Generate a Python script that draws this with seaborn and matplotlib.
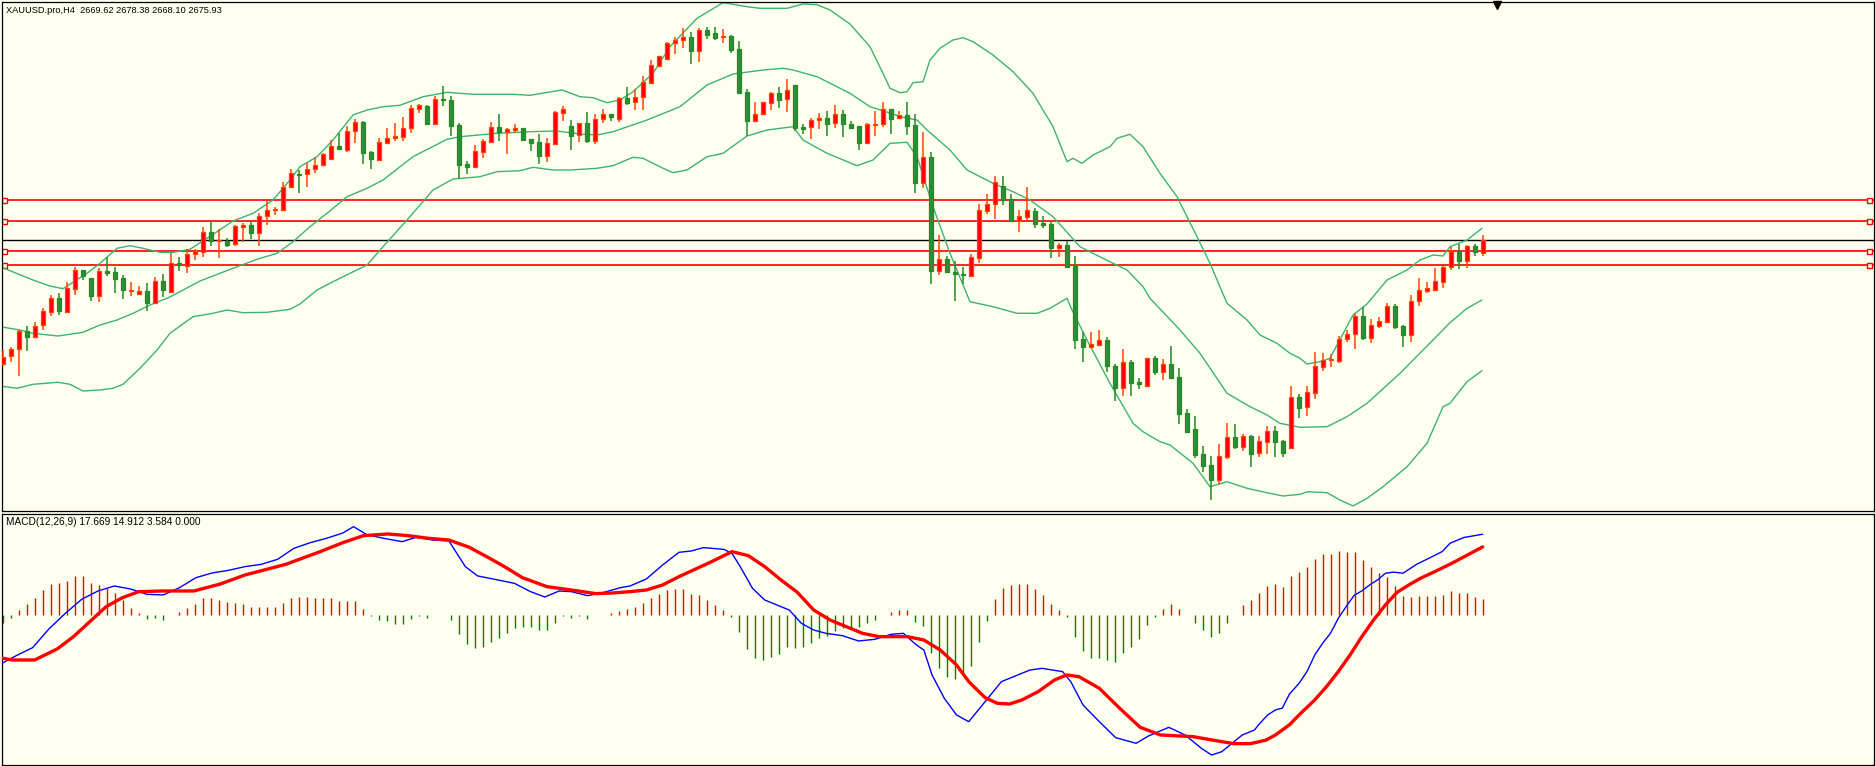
import numpy as np
import pandas as pd
import matplotlib
matplotlib.use('Agg')
from matplotlib import pyplot as plt
import seaborn as sns

sns.set_theme(style='white')
plt.rcParams['font.family'] = ['Liberation Sans', 'DejaVu Sans']

# ---- XAUUSD.pro H4 candles ----
opens = [2614, 2618, 2621.5, 2630.5, 2627.5, 2633.5, 2640, 2647, 2640, 2651.5,
         2661, 2657, 2648, 2660.5, 2660, 2657, 2650.65, 2649.15, 2650.5, 2644.5,
         2655.5, 2650, 2664.5, 2663, 2669, 2670, 2680, 2675.35, 2675.5, 2674,
         2682.65, 2683.5, 2679.5, 2688, 2690.85, 2691, 2702.5, 2709, 2709, 2711.5,
         2713.5, 2716.5, 2723, 2721, 2730.5, 2735, 2720, 2716, 2724.5, 2727,
         2727.5, 2732, 2741.5, 2743, 2734, 2746.5, 2746, 2733.5, 2714, 2712.5,
         2720, 2725, 2732.5, 2730, 2731.15, 2732, 2726.5, 2725, 2718, 2724,
         2739.5, 2733, 2728.5, 2734.5, 2725.5, 2736.5, 2739, 2736.5, 2747, 2745,
         2747.5, 2754.5, 2763, 2766.5, 2774.5, 2776, 2777.5, 2770.5, 2781, 2779.5,
         2777.35, 2778, 2771.5, 2750, 2735.5, 2739, 2744.5, 2749.5, 2746.5, 2753.5,
         2732.5, 2732.5, 2736, 2737, 2734.5, 2739, 2734, 2733, 2724.5, 2733.65,
         2734, 2741.5, 2737, 2738.5, 2733.5, 2704.5, 2717.5, 2660.5, 2666.5, 2660,
         2658.85, 2658, 2667, 2690.5, 2694, 2703, 2696.5, 2685.5, 2687.5, 2690.5,
         2684.5, 2684, 2672, 2673.5, 2663, 2626.5, 2622.5, 2623.5, 2626, 2613,
         2602, 2615, 2605, 2603, 2617, 2610, 2614, 2607.5, 2589.5, 2581.5,
         2569, 2563.5, 2556, 2567.5, 2577.5, 2572.5, 2578, 2569.5, 2575, 2580.5,
         2575.5, 2572, 2597.5, 2592.5, 2599.5, 2612.5, 2616, 2615.5, 2626.5, 2629,
         2638, 2627, 2633, 2635, 2643, 2633, 2628.5, 2645.5, 2650.5, 2651,
         2655, 2662.5, 2670, 2665.5, 2673, 2669.62]
highs = [2621, 2622.5, 2631, 2633, 2635, 2642, 2648.5, 2649.5, 2655, 2662.5,
         2661.25, 2657, 2662, 2667.5, 2662.5, 2658.5, 2655, 2653.15, 2654.5, 2657.5,
         2659, 2669.5, 2667.5, 2671.5, 2671.5, 2682.5, 2685, 2681.5, 2677, 2683.5,
         2684.5, 2685, 2689.5, 2695.5, 2692.5, 2705, 2711.5, 2711, 2714.5, 2717.5,
         2719.5, 2726, 2729.5, 2733, 2736.5, 2735.5, 2720.5, 2727, 2732, 2734.5,
         2737.5, 2743.5, 2744, 2743.5, 2748, 2753, 2748, 2734.5, 2715.5, 2723.5,
         2726.5, 2735, 2739, 2732, 2734, 2732.25, 2726.5, 2729, 2727, 2740.5,
         2743, 2736, 2734.5, 2740, 2739, 2741.5, 2739, 2747.5, 2752.5, 2751.5,
         2758, 2766, 2768, 2775, 2777.5, 2782, 2780, 2782, 2782.5, 2782.5,
         2781.5, 2778.5, 2775.5, 2751.5, 2745, 2745.25, 2750, 2752.5, 2756.5, 2753.5,
         2734, 2737, 2739.5, 2740.5, 2743.5, 2741, 2735.5, 2733, 2734.5, 2740.5,
         2745, 2741.5, 2740.5, 2745, 2739, 2730, 2720, 2678.5, 2668, 2665.5,
         2662.5, 2669, 2694, 2699, 2708, 2708, 2699, 2691, 2702.5, 2692,
         2688, 2685, 2674.5, 2675.5, 2668, 2630, 2630, 2631, 2627.5, 2614,
         2621.5, 2616, 2607, 2617.25, 2618, 2616.5, 2623, 2612, 2591.5, 2588,
         2573, 2568, 2574, 2584.5, 2584, 2579, 2578.5, 2578, 2583, 2583,
         2576, 2603, 2599, 2603, 2620, 2619.5, 2619, 2628, 2631, 2639.5,
         2642.5, 2636.5, 2637.5, 2644.5, 2644, 2633.5, 2648.5, 2657, 2655, 2662,
         2663, 2672.5, 2674, 2673.5, 2674, 2678.38]
lows = [2613, 2615, 2608, 2620.5, 2627, 2631, 2638, 2638.5, 2639.5, 2648.5,
        2656, 2645.5, 2645, 2658, 2649.5, 2646.5, 2648, 2648.35, 2640.5, 2644,
        2647.5, 2649.5, 2660.5, 2659.5, 2666, 2667.5, 2673, 2667, 2672.5, 2673,
        2675, 2676.5, 2673, 2683.5, 2688.5, 2690.5, 2702, 2699.5, 2702.5, 2709.5,
        2713, 2716, 2721, 2720, 2724.5, 2714, 2711.5, 2715.5, 2724, 2725.5,
        2725.5, 2729.5, 2739.5, 2733.5, 2733.5, 2743, 2728, 2706.5, 2709, 2712,
        2717, 2724.5, 2725.5, 2719, 2729.5, 2726, 2720.5, 2714, 2715, 2724,
        2735.5, 2721, 2725, 2724.5, 2724, 2734.5, 2735.5, 2735, 2743.5, 2741,
        2741, 2754.5, 2763, 2766, 2769, 2772, 2764, 2765, 2776.5, 2776,
        2774.5, 2769.5, 2749, 2728, 2735, 2738.5, 2741, 2742, 2740, 2730.5,
        2729, 2726.5, 2731.5, 2728, 2732, 2727.5, 2731.5, 2721, 2724, 2728,
        2732.5, 2729, 2736.5, 2728.5, 2699.5, 2702, 2654, 2658.5, 2660, 2645.5,
        2654, 2657.5, 2664.5, 2689, 2686.5, 2693.5, 2685.25, 2680, 2685.5, 2682,
        2682, 2667, 2667.5, 2662.25, 2621.5, 2615, 2622, 2623, 2610, 2595.5,
        2598, 2598, 2601.5, 2603, 2608.5, 2606, 2606.5, 2584, 2579.5, 2567,
        2560, 2546, 2554, 2566.5, 2571.5, 2570.5, 2562.5, 2567.5, 2569, 2567.5,
        2567.5, 2571.5, 2587, 2588, 2596.5, 2610.5, 2612.5, 2614.5, 2625, 2621.5,
        2626, 2624.5, 2632, 2634.5, 2631.5, 2622.5, 2625, 2643, 2649.5, 2650.5,
        2652, 2661, 2661.5, 2662, 2668, 2668.10]
closes = [2617.5, 2621.5, 2630.5, 2627.5, 2633, 2640.5, 2647, 2640.5, 2652, 2661,
          2658, 2648, 2660.5, 2659.5, 2656.5, 2651, 2651, 2650.35, 2644.5, 2655.5,
          2651, 2664.5, 2663.5, 2669, 2670.5, 2680, 2675.5, 2675.85, 2673.5, 2683,
          2683.35, 2679.5, 2688, 2691, 2691.65, 2702.5, 2709.5, 2708.5, 2711.5, 2713.5,
          2719, 2723, 2721.5, 2730.5, 2735, 2719.5, 2716.5, 2725, 2727, 2728,
          2732, 2742, 2743.5, 2734, 2746.5, 2745.85, 2733, 2713.5, 2712.5, 2720.5,
          2725.5, 2732.5, 2730, 2731.5, 2732, 2726, 2724.5, 2718, 2724.5, 2740,
          2741.5, 2728, 2734.5, 2725.5, 2736.5, 2739, 2737.5, 2747, 2744.5, 2747.5,
          2755, 2763.5, 2768, 2774.5, 2776, 2777.5, 2770.5, 2781, 2778.5, 2777,
          2778.15, 2771, 2749.5, 2735.5, 2739, 2745, 2749.5, 2746, 2751, 2732,
          2731.5, 2736, 2737, 2734, 2739, 2734, 2732, 2724.5, 2734, 2734,
          2741.5, 2736.5, 2738.5, 2733, 2704.5, 2717.5, 2660.5, 2666.5, 2660, 2659,
          2658.35, 2667.5, 2691, 2694, 2705, 2696, 2685.5, 2688, 2691, 2684,
          2683.5, 2672, 2673.5, 2662.5, 2626, 2622.5, 2624, 2626, 2613, 2602,
          2615, 2604.5, 2604, 2617, 2610, 2614, 2607, 2589, 2580, 2568.5,
          2563, 2556, 2568, 2577.5, 2572.5, 2578, 2569, 2575.5, 2580.5, 2575,
          2569.5, 2597.5, 2592, 2600, 2613, 2616, 2616.5, 2626.5, 2629, 2638,
          2627, 2633.5, 2635.5, 2643, 2632.5, 2628.5, 2645.5, 2651, 2652, 2655.5,
          2662.5, 2670.5, 2665.5, 2673, 2670, 2675.93]

# Bollinger bands (20, 2): points (bar position, price)
upper_bars = [-0.34, 3.79, 5.91, 7.54, 10.54, 12.16, 14.29, 15.91, 17.54, 19.66,
              21.29, 23.41, 26.79, 28.79, 31.29, 33.79, 35.91, 37.16, 39.29, 41.29,
              43.79, 45.54, 47.54, 49.66, 52.54, 55.54, 58.79, 63.79, 65.91, 69.91,
              72.16, 73.79, 75.54, 77.16, 78.79, 81.29, 83.41, 86.79, 90.04, 93.04,
              94.66, 98.04, 100.04, 101.79, 103.41, 105.91, 108.41, 110.04, 110.91, 112.16,
              113.04, 113.79, 115.04, 115.91, 117.16, 118.79, 120.04, 121.29, 123.79, 126.29,
              128.79, 131.29, 133.04, 133.79, 134.91, 136.29, 138.41, 139.29, 140.91, 142.54,
              144.66, 146.79, 149.29, 150.91, 153.04, 155.54, 157.16, 159.29, 160.91, 162.16,
              163.04, 164.66, 165.91, 168.79, 170.54, 173.04, 175.54, 177.16, 178.79, 180.04,
              180.91, 183.04, 184.91]
upper_vals = [2662.65, 2656, 2653, 2651.65, 2659.35, 2664.35, 2671.85, 2673.15, 2671.85, 2669.85,
              2669.85, 2671.35, 2680.15, 2685.5, 2689.35, 2696, 2706, 2712.65, 2717.65, 2726,
              2738.5, 2741, 2742.65, 2743.35, 2747.65, 2749.85, 2748.85, 2748.85, 2748.35, 2751,
              2747.65, 2747.15, 2744.65, 2746, 2750.15, 2759.35, 2772.65, 2786.85, 2794.65, 2792.65,
              2791.85, 2791.85, 2794, 2793.65, 2791, 2784, 2772.65, 2759.35, 2751.85, 2749.65,
              2750.15, 2754.65, 2755.15, 2766, 2771.85, 2776, 2777.15, 2775.15, 2768.5, 2760.15,
              2749.35, 2732.65, 2715.15, 2716.85, 2714.35, 2718.5, 2722.65, 2726.85, 2728.85, 2722.65,
              2709.35, 2697.65, 2677.65, 2664.35, 2644.35, 2636, 2628.5, 2624.35, 2619.35, 2616.85,
              2614, 2615.15, 2616.85, 2638.5, 2644, 2656, 2661, 2666, 2668.5, 2668,
              2672.65, 2676, 2681.85]
middle_bars = [-0.34, 2.16, 3.79, 6.91, 10.04, 12.16, 14.29, 16.29, 18.41, 20.54,
               21.79, 24.66, 28.79, 31.79, 34.29, 36.29, 38.41, 40.54, 43.04, 45.54,
               47.54, 51.29, 55.54, 57.16, 61.79, 65.91, 69.29, 72.16, 74.29, 76.29,
               80.54, 84.66, 88.04, 91.29, 95.04, 97.54, 98.79, 101.79, 105.91, 108.41,
               112.54, 114.29, 115.54, 118.41, 120.54, 123.79, 126.29, 128.41, 131.29, 134.66,
               136.29, 138.79, 140.54, 142.54, 143.41, 147.16, 149.66, 153.04, 155.91, 158.04,
               159.66, 162.16, 165.54, 168.04, 170.54, 174.66, 178.79, 180.91, 183.04, 184.91]
middle_vals = [2632.65, 2631, 2629.35, 2628, 2629.85, 2633.5, 2636, 2639.35, 2643.5, 2646.85,
               2649.35, 2655.5, 2661.85, 2666.35, 2669.35, 2675.15, 2682.65, 2689.35, 2697.65, 2701.85,
               2706, 2717.65, 2726.35, 2727.65, 2729.35, 2730.15, 2730.5, 2729, 2728.5, 2730.15,
               2736, 2742.65, 2753.5, 2759, 2761, 2761.85, 2761, 2757.65, 2749.35, 2742.65,
               2737.35, 2736, 2731, 2721, 2711, 2704.35, 2700.15, 2696, 2687.65, 2672.65,
               2669.35, 2664.35, 2661, 2652.65, 2646.85, 2631, 2619.35, 2599.35, 2592.65, 2588.5,
               2584.35, 2582.35, 2582.65, 2587.65, 2594.35, 2609.35, 2626, 2634.65, 2641.85, 2646]
lower_bars = [-0.34, 1.79, 3.79, 6.91, 8.41, 10.04, 12.16, 13.79, 15.04, 17.16,
              19.29, 20.91, 23.79, 26.29, 28.04, 30.04, 33.04, 35.91, 37.16, 39.29,
              41.29, 43.41, 45.54, 47.54, 50.54, 53.79, 56.29, 59.66, 61.79, 64.66,
              66.29, 68.79, 70.91, 74.29, 76.29, 78.79, 80.04, 82.54, 83.79, 85.54,
              88.04, 90.04, 93.04, 95.54, 98.79, 100.04, 103.04, 106.79, 108.79, 110.91,
              113.04, 114.29, 116.29, 118.41, 120.91, 123.79, 126.79, 129.29, 130.91, 133.04,
              133.66, 135.54, 138.41, 141.29, 142.54, 144.66, 145.91, 148.79, 150.91, 153.04,
              155.54, 158.04, 160.04, 162.16, 163.16, 165.54, 167.16, 168.79, 170.54, 172.54,
              175.54, 178.04, 180.04, 180.91, 183.04, 184.91]
lower_vals = [2603, 2601.85, 2603.85, 2604.85, 2603.85, 2600.5, 2601, 2601.85, 2603.85, 2611.85,
              2621, 2629.35, 2637.65, 2639.35, 2641, 2639.65, 2639.85, 2641.35, 2644, 2651,
              2655.15, 2659.35, 2663.5, 2672.65, 2686, 2701, 2706.5, 2707.65, 2710.15, 2710.65,
              2712.35, 2711, 2711, 2711.85, 2713.15, 2717.35, 2716.85, 2711.85, 2709.65, 2711,
              2717.65, 2719.35, 2728, 2731, 2732.65, 2726, 2719.35, 2713.15, 2716, 2724.35,
              2724.85, 2717.65, 2692.65, 2669.35, 2645.15, 2642.65, 2639.35, 2639.35, 2641.85, 2646.85,
              2641, 2626, 2604.35, 2584.35, 2580.15, 2575.15, 2573.5, 2564.35, 2552.65, 2555.15,
              2551.85, 2549.65, 2548, 2548.85, 2550.15, 2549.65, 2546, 2543, 2546.85, 2552.65,
              2562.65, 2574.35, 2592.65, 2594.35, 2605.15, 2610.65]

# support / resistance levels and the bid line
red_levels = [2695.85, 2685.35, 2670.35, 2663.35]
bid_level = 2676.0

# MACD(12,26,9): main and signal lines (bar position, value), histogram per bar
main_bars = [-0.34, 1.70, 3.74, 5.78, 7.83, 9.87, 11.91, 13.95, 15.99, 18.03,
             20.07, 22.11, 24.15, 26.19, 28.23, 30.28, 32.32, 34.36, 36.40, 38.44,
             40.48, 42.52, 43.85, 45.58, 47.62, 49.92, 51.70, 53.74, 55.78, 57.83,
             59.36, 60.88, 63.95, 65.99, 67.77, 69.56, 71.09, 73.13, 75.17, 77.21,
             78.41, 80.45, 82.49, 84.53, 86.06, 87.59, 90.14, 91.16, 92.19, 93.72,
             95.25, 97.29, 98.31, 99.84, 101.37, 102.9, 104.94, 106.98, 109.02, 111.06,
             112.59, 114.12, 115.14, 116.17, 117.7, 119.23, 120.76, 122.8, 124.84, 126.88,
             128.41, 129.94, 132.49, 133.51, 135.04, 137.08, 139.13, 141.68, 143.21, 145.76,
             147.8, 149.84, 151.11, 152.39, 154.94, 156.47, 157.16, 158.14, 159.12, 159.95,
             160.84, 162.06, 163.04, 164.02, 165.0, 165.98, 166.96, 167.94, 168.92, 169.9,
             170.89, 171.87, 172.85, 173.83, 175.05, 176.77, 178.73, 179.95, 180.93, 182.65,
             183.88, 185]
main_vals = [-10.62, -8.73, -6.99, -2.92, 0.47, 3.51, 5.33, 6.41, 5.76, 4.6,
             4.46, 6.05, 8.22, 9.24, 9.82, 10.62, 11.12, 12.21, 14.6, 15.83,
             16.78, 17.93, 19.31, 17.5, 16.78, 16.05, 17.0, 16.41, 16.2, 10.62,
             8.6, 8.08, 7.0, 5.18, 4.02, 5.33, 5.18, 4.31, 5.04, 6.05,
             6.41, 7.93, 10.98, 13.73, 14.02, 14.75, 14.38, 13.51, 10.62, 5.91,
             3.37, 1.92, 1.2, -1.7, -3.15, -3.88, -4.38, -5.54, -5.18, -4.09,
             -3.88, -6.27, -7.5, -12.93, -18.01, -21.63, -23.08, -18.73, -14.38, -12.93,
             -11.85, -11.49, -12.21, -14.38, -19.46, -23.08, -26.56, -27.79, -26.2, -24.31,
             -25.98, -28.88, -30.33, -29.6, -25.98, -24.89, -23.41, -21.59, -20.51, -20.14,
             -17.1, -14.71, -12.17, -8.55, -6.01, -3.84, -0.58, 1.96, 4.35, 5.36,
             6.67, 7.75, 9.2, 9.42, 9.2, 11.16, 12.83, 13.91, 15.72, 16.96,
             17.32, 17.669]
signal_bars = [-0.34, 1.19, 4.0, 6.81, 8.85, 10.89, 12.93, 14.97, 17.01, 20.07,
               23.9, 27.21, 30.28, 35.38, 39.46, 42.52, 45.07, 48.13, 50.68, 53.23,
               55.78, 58.33, 60.88, 62.93, 64.97, 68.03, 71.09, 74.15, 76.19, 78.41,
               80.45, 82.49, 84.53, 88.61, 91.16, 93.2, 95.25, 97.29, 99.33, 101.37,
               103.41, 105.45, 107.49, 109.53, 113.1, 115.14, 117.19, 119.23, 120.76, 122.8,
               124.33, 125.86, 127.39, 129.43, 131.47, 133.0, 134.53, 137.08, 139.63, 142.19,
               144.74, 148.82, 151.88, 153.92, 155.96, 157.16, 157.9, 159.12, 160.84, 162.06,
               164.02, 165.49, 166.96, 168.43, 169.9, 171.38, 172.85, 174.32, 175.79, 177.26,
               179.22, 181.18, 183.14, 185]
signal_vals = [-9.17, -9.67, -9.67, -7.28, -4.6, -1.34, 1.92, 3.88, 5.18, 5.33,
               5.33, 6.85, 8.8, 11.12, 13.73, 15.83, 17.35, 17.72, 17.35, 16.78,
               16.41, 14.82, 12.43, 10.4, 8.22, 6.27, 5.54, 4.75, 4.89, 5.18,
               5.54, 6.63, 8.44, 11.7, 13.88, 13.01, 10.62, 7.72, 5.04, 1.2,
               -0.98, -2.43, -3.88, -4.6, -4.6, -5.33, -7.5, -10.76, -14.38, -17.86,
               -19.09, -19.24, -18.37, -16.56, -14.02, -12.93, -13.3, -15.83, -20.18, -24.31,
               -25.98, -26.34, -27.28, -27.86, -27.86, -27.39, -27.1, -25.94, -23.77, -21.59,
               -18.33, -15.43, -12.17, -8.55, -4.57, -0.94, 2.32, 5.07, 6.67, 8.12,
               9.71, 11.38, 13.19, 14.912]
macd_hist = [-1.7, -0.5, 1.2, 2.5, 3.8, 5.5, 6.8, 7.0, 7.4, 8.5,
             8.5, 7.0, 6.6, 5.9, 4.9, 3.3, 1.6, 0.6, -0.7, -0.6,
             -0.9, 0.0, 0.7, 1.6, 2.5, 3.7, 3.8, 3.4, 2.9, 2.8,
             2.5, 1.9, 1.9, 1.9, 1.9, 2.8, 3.9, 4.1, 4.0, 3.8,
             3.8, 3.8, 3.2, 3.2, 3.2, 1.4, -0.2, -1.0, -1.3, -1.8,
             -1.8, -0.8, -0.2, -0.5, 0.15, 0.15, -1.0, -4.0, -6.3, -7.0,
             -6.8, -5.7, -4.8, -3.8, -2.7, -2.5, -2.5, -3.2, -3.2, -1.7,
             -0.1, -0.5, -0.1, -0.7, 0.15, 0.15, 0.5, 1.0, 1.4, 1.8,
             2.7, 3.8, 4.6, 5.5, 5.8, 5.8, 4.6, 4.4, 3.3, 2.2,
             1.2, -0.3, -3.6, -7.3, -9.2, -9.6, -9.1, -8.3, -6.9, -7.0,
             -6.9, -5.9, -4.9, -4.4, -3.4, -2.8, -2.8, -2.5, -1.6, -1.0,
             0.15, 0.7, 1.2, 1.2, -1.4, -2.2, -8.1, -11.4, -13.3, -13.9,
             -12.5, -10.9, -5.7, -1.2, 3.6, 5.9, 6.6, 6.8, 6.8, 5.7,
             4.4, 2.5, 1.2, -0.4, -4.6, -7.8, -9.2, -9.3, -9.6, -10.1,
             -8.1, -6.8, -5.1, -2.1, -0.3, 1.4, 2.5, 1.4, 0.0, -1.6,
             -3.2, -4.6, -3.8, -1.6, 0.15, 2.2, 3.3, 4.9, 6.4, 6.8,
             6.2, 8.6, 9.5, 10.6, 12.3, 13.4, 13.4, 14.0, 13.8, 13.8,
             12.1, 10.6, 9.3, 8.4, 6.4, 4.3, 4.1, 4.3, 4.3, 4.3,
             4.5, 5.4, 4.9, 4.9, 4.1, 3.584]

header = 'XAUUSD.pro,H4  2669.62 2678.38 2668.10 2675.93'
macd_label = 'MACD(12,26,9) 17.669 14.912 3.584 0.000'

bg = '#fffff0'
bull_fill, bull_edge = '#ff0000', '#ff4500'
bear_fill, bear_edge = '#2e8b3e', '#228b22'
band_col = '#3cb371'

df = pd.DataFrame({'bar': np.arange(len(closes)), 'open': opens, 'high': highs,
                   'low': lows, 'close': closes, 'hist': macd_hist})
df['bull'] = df['close'] >= df['open']

W, H = 1875, 766
fig = plt.figure(figsize=(W / 100, H / 100), dpi=100, facecolor=bg)
ax = fig.add_axes([1.5 / W, 1 - 511 / H, 1872 / W, 509 / H])
ax2 = fig.add_axes([1.5 / W, 1 - 765 / H, 1872 / W, 251.5 / H])
for a in (ax, ax2):
    a.set_facecolor(bg)
    for s in a.spines.values():
        s.set_color('black')
        s.set_linewidth(0.9)
    a.set_xlim(-0.15, 233.85)
    a.set_xticks([])

# price panel
ax.set_ylim(2540.5, 2795)
for lvl in red_levels:
    ax.axhline(lvl, color='#ff0000', lw=1.2, zorder=1)
    ax.plot([0.0016, 0.9976], [lvl, lvl], transform=ax.get_yaxis_transform(),
            ls='none', marker='s', ms=3.6, mfc=bg, mec='#ff0000', mew=1.0, zorder=2)
ax.axhline(bid_level, color='black', lw=1.0, zorder=1)

for bx, by in ((upper_bars, upper_vals), (middle_bars, middle_vals), (lower_bars, lower_vals)):
    sns.lineplot(x=bx, y=by, ax=ax, color=band_col, lw=1.0, estimator=None, zorder=2)

for bull, fill, edge in ((True, bull_fill, bull_edge), (False, bear_fill, bear_edge)):
    d = df[df['bull'] == bull]
    ax.vlines(d['bar'], d['low'], d['high'], colors=edge, lw=1.1, zorder=3)
    lo = np.minimum(d['open'], d['close'])
    hgt = np.maximum(np.abs(d['close'] - d['open']), 0.15)
    ax.bar(d['bar'], hgt, bottom=lo, width=0.52, color=fill, edgecolor=edge,
           linewidth=0.9, zorder=4)

ax.plot([0.7987], [0.994], transform=ax.transAxes, marker='v', ms=6,
        color='black', clip_on=False, zorder=5)
ax.yaxis.tick_right()
ax.set_yticks(np.arange(2789.65, 2541, -16.6))
ax.set_yticklabels([])
ax.tick_params(axis='y', right=True, length=2.5, width=0.8, direction='out', color='black')
ax.set_xlabel('')
ax.set_ylabel('')

# MACD panel
ax2.set_ylim(-32.5, 22.17)
cols = np.where(df['hist'] > 0, '#ff0000', '#008000')
ax2.vlines(df['bar'], 0, df['hist'], colors=cols, lw=1.0, zorder=2)
sns.lineplot(x=main_bars, y=main_vals, ax=ax2, color='#0000ff', lw=1.0,
             estimator=None, zorder=3)
sns.lineplot(x=signal_bars, y=signal_vals, ax=ax2, color='#ff0000', lw=2.4,
             estimator=None, zorder=4)
ax2.yaxis.tick_right()
ax2.set_yticks([0])
ax2.set_yticklabels([])
ax2.tick_params(axis='y', right=True, length=2.5, width=0.8, direction='out', color='black')
ax2.set_xlabel('')
ax2.set_ylabel('')

fig.text(6 / W, 1 - 10.7 / H, header, fontsize=6.7, color='black', ha='left', va='center')
fig.text(6.5 / W, 1 - 522 / H, macd_label, fontsize=7.3, color='black', ha='left', va='center')

fig.savefig('out.png', dpi=100, facecolor=bg)
